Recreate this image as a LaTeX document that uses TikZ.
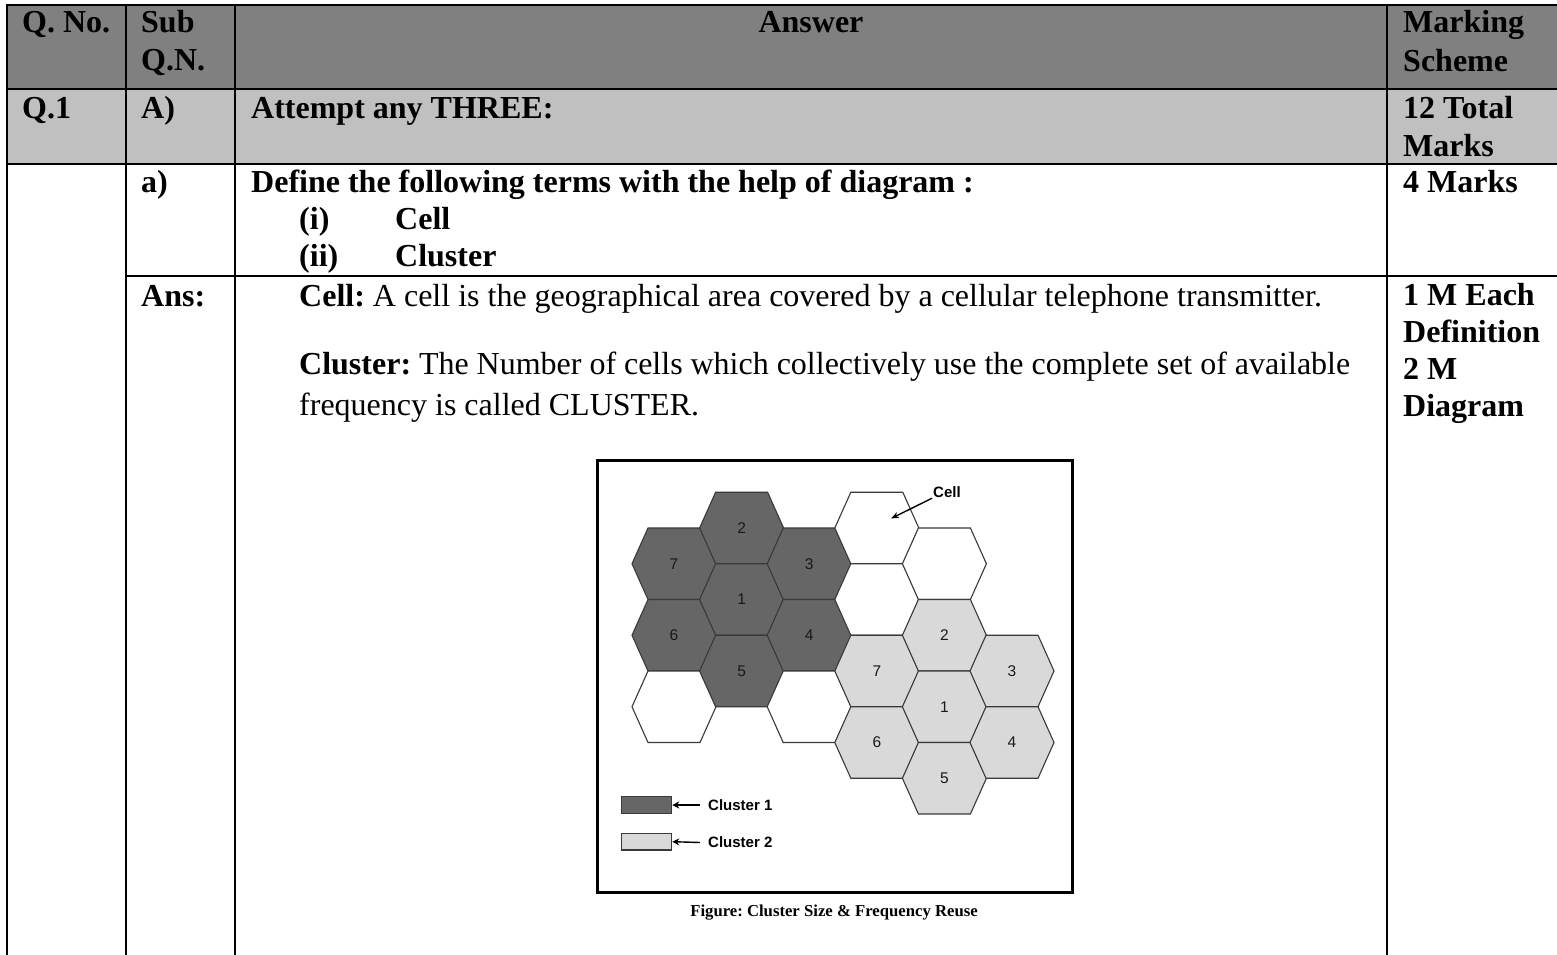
\documentclass[tikz,border=0pt]{standalone}
\usepackage{fontspec}
\setmainfont{Liberation Serif}
\newfontfamily\hexfont{Liberation Sans}
\usetikzlibrary{arrows.meta}
\definecolor{hdrgray}{HTML}{808080}
\definecolor{rowgray}{HTML}{C0C0C0}
\definecolor{darkcell}{HTML}{666666}
\definecolor{lightcell}{HTML}{D9D9D9}
\definecolor{hexedge}{HTML}{3A3A3A}
\newcommand{\hexcell}[5]{%
  \begin{scope}[shift={({674+67.6*#2},{528+35.75*#3})}]
    \filldraw[hexline, fill=#4] (-42,0) -- (-26,-35.75) -- (26,-35.75) -- (42,0) -- (26,35.75) -- (-26,35.75) -- cycle;
    \node[hexnum] (#1) at (0,0) {#5};
  \end{scope}}
\begin{document}
\begin{tikzpicture}[x=1pt,y=-1pt,
  tabline/.style={line width=2pt, black},
  tt/.style={anchor=base west, inner sep=0pt, font=\fontsize{32}{37}\selectfont\bfseries},
  body/.style={anchor=base west, inner sep=0pt, font=\fontsize{32}{37}\selectfont\frenchspacing},
  hexline/.style={draw=hexedge, line width=1.1pt},
  hexnum/.style={inner sep=0pt, text=black!90, font=\hexfont\fontsize{15.5}{17}\selectfont},
  legtext/.style={anchor=west, inner sep=0pt, font=\hexfont\bfseries\fontsize{15}{17}\selectfont},
  legbox/.style={draw=hexedge, line width=1.1pt, minimum width=50pt, minimum height=16.6pt, inner sep=0pt},
  pointer/.style={line width=1.4pt, -{Stealth[length=8pt,width=6pt]}}
]
\useasboundingbox (0,0) rectangle (1557,955);
\fill[white] (0,0) rectangle (1557,955);
% row fills
\fill[hdrgray] (7,5) rectangle (1557,89);
\fill[rowgray] (7,89) rectangle (1557,164);
% table lines
\draw[tabline] (7,5) -- (1557,5);
\draw[tabline] (7,89) -- (1557,89);
\draw[tabline] (7,164) -- (1557,164);
\draw[tabline] (126,276) -- (1557,276);
\draw[tabline] (7,4) -- (7,955);
\draw[tabline] (126,4) -- (126,955);
\draw[tabline] (235,4) -- (235,955);
\draw[tabline] (1387,4) -- (1387,955);
% header
\node[tt] (hq) at (22,33) {Q. No.};
\node[tt] (hs1) at (141,33) {Sub};
\node[tt] (hs2) at (141,71) {Q.N.};
\node[tt, anchor=base] (ha) at (811,33) {Answer};
\node[tt] (hm1) at (1403,33) {Marking};
\node[tt] (hm2) at (1403,72) {Scheme};
% row 2
\node[tt] (q1) at (22,118) {Q.1};
\node[tt] (sa) at (141,118) {A)};
\node[tt] (att) at (251,118) {Attempt any THREE:};
\node[tt] (tm1) at (1403,118) {12 Total};
\node[tt] (tm2) at (1403,157) {Marks};
% row 3
\node[tt] (sa2) at (141,192) {a)};
\node[tt] (def) at (251,192) {Define the following terms with the help of diagram :};
\node[tt] (i1) at (299,229) {(i)};
\node[tt] (i1t) at (395,229) {Cell};
\node[tt] (i2) at (299,266) {(ii)};
\node[tt] (i2t) at (395,266) {Cluster};
\node[tt] (fm) at (1403,192) {4 Marks};
% row 4
\node[tt] (ans) at (141,306) {Ans:};
\node[body] (celldef) at (299,306) {\textbf{Cell:} A cell is the geographical area covered by a cellular telephone transmitter.};
\node[body] (clu1) at (299,374) {\makebox[1051pt][s]{\textbf{Cluster:} The Number of cells which collectively use the complete set of available}};
\node[body] (clu2) at (299,415) {frequency is called CLUSTER.};
\node[tt] (m1) at (1403,305) {1 M Each};
\node[tt] (m2) at (1403,342) {Definition};
\node[tt] (m3) at (1403,379) {2 M};
\node[tt] (m4) at (1403,416) {Diagram};
% figure frame
\node[draw, line width=3pt, minimum width=475pt, minimum height=432pt, inner sep=0pt] (frame) at (834.5,676) {};
% cluster 1 (dark)
\hexcell{a7}{0}{1}{darkcell}{7}
\hexcell{a6}{0}{3}{darkcell}{6}
\hexcell{b0}{0}{5}{white}{}
\hexcell{a2}{1}{0}{darkcell}{2}
\hexcell{a1}{1}{2}{darkcell}{1}
\hexcell{a5}{1}{4}{darkcell}{5}
\hexcell{a3}{2}{1}{darkcell}{3}
\hexcell{a4}{2}{3}{darkcell}{4}
\hexcell{b2}{2}{5}{white}{}
% blank and cluster 2 (light)
\hexcell{cellhex}{3}{0}{white}{}
\hexcell{b3}{3}{2}{white}{}
\hexcell{b4}{4}{1}{white}{}
\hexcell{c7}{3}{4}{lightcell}{7}
\hexcell{c6}{3}{6}{lightcell}{6}
\hexcell{c2}{4}{3}{lightcell}{2}
\hexcell{c1}{4}{5}{lightcell}{1}
\hexcell{c5}{4}{7}{lightcell}{5}
\hexcell{c3}{5}{4}{lightcell}{3}
\hexcell{c4}{5}{6}{lightcell}{4}
% cell pointer
\node[legtext] (celllab) at (933,492.5) {Cell};
\coordinate (cellpt) at (891,518.5);
\draw[pointer] (celllab.south west) ++(-1,0) -- (cellpt);
% legend
\node[legbox, fill=darkcell] (lg1) at (646.7,805) {};
\node[legbox, fill=lightcell] (lg2) at (646.7,841.7) {};
\node[legtext] (lt1) at (708,805) {Cluster 1};
\node[legtext] (lt2) at (708,842.5) {Cluster 2};
\draw[pointer, -{Stealth[length=7pt,width=7pt]}] (lt1.west) ++(-8,0) -- (lg1.east);
\draw[pointer, -{Stealth[length=7pt,width=7pt]}] (lt2.west) ++(-8,0) -- (lg2.east);
% caption
\node[inner sep=0pt, font=\bfseries\fontsize{16.7}{19}\selectfont\frenchspacing] (cap) at (834,913) {Figure: Cluster Size \& Frequency Reuse};
\end{tikzpicture}
\end{document}
